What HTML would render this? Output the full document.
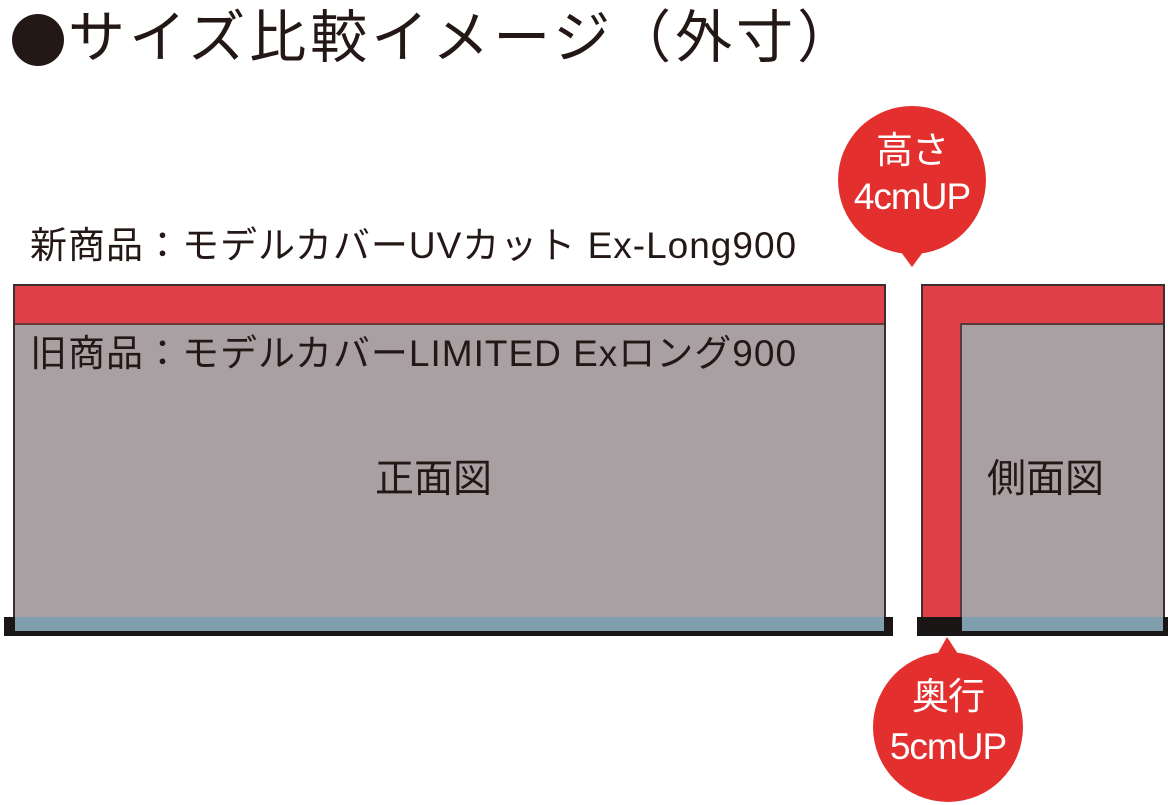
<!DOCTYPE html>
<html><head><meta charset="utf-8"><style>
html,body{margin:0;padding:0;background:#fff;width:1168px;height:805px;overflow:hidden;position:relative;font-family:"Liberation Sans","Noto Sans CJK JP",sans-serif;}
.a{position:absolute;}
.t{position:absolute;white-space:nowrap;color:#231815;}
</style></head><body>
<div class="a" style="left:12px;top:14px;width:52px;height:52px;border-radius:50%;background:#231815;"></div>
<div class="t" style="left:68px;top:2px;font-size:57px;line-height:72px;letter-spacing:4px;">サイズ比較イメージ（外寸）</div>
<div class="t" style="left:30px;top:222px;font-size:37px;line-height:48px;letter-spacing:1px;">新商品：モデルカバーUVカット Ex-Long900</div>

<!-- front -->
<div class="a" style="left:13px;top:284px;width:869px;height:336px;border:2px solid #3a2e2e;border-bottom:none;background:#a9a0a3;"></div>
<div class="a" style="left:15px;top:286px;width:869px;height:37px;background:#df4048;border-bottom:2px solid #6a3a3a;"></div>
<div class="a" style="left:4px;top:617px;width:889px;height:19px;background:#1a1616;"></div>
<div class="a" style="left:15px;top:617px;width:869px;height:14px;background:#7f9fae;"></div>
<div class="t" style="left:30px;top:330px;font-size:37px;line-height:48px;letter-spacing:1px;">旧商品：モデルカバーLIMITED Exロング900</div>
<div class="t" style="left:375px;top:456px;font-size:39px;line-height:48px;">正面図</div>

<!-- side -->
<div class="a" style="left:921px;top:284px;width:240px;height:336px;border:2px solid #3a2e2e;border-bottom:none;background:#df4048;"></div>
<div class="a" style="left:960px;top:323px;width:201px;height:297px;background:#a9a0a3;border-left:2px solid #5a3a3a;border-top:2px solid #5a3a3a;"></div>
<div class="a" style="left:917px;top:617px;width:251px;height:19px;background:#1a1616;"></div>
<div class="a" style="left:962px;top:617px;width:201px;height:14px;background:#7f9fae;"></div>
<div class="t" style="left:987px;top:456px;font-size:39px;line-height:48px;">側面図</div>

<!-- bubbles -->
<svg class="a" style="left:0;top:0" width="1168" height="805">
<circle cx="912" cy="180" r="74" fill="#e3302f"/>
<polygon points="898,248 926,248 912,267" fill="#e3302f"/>
<circle cx="948" cy="727" r="75" fill="#e3302f"/>
<polygon points="934,660 962,660 947,637" fill="#e3302f"/>
</svg>
<div class="t" style="left:838px;top:128px;width:148px;text-align:center;color:#fff;font-size:37px;line-height:46px;letter-spacing:-1px;">高さ<br>4cmUP</div>
<div class="t" style="left:874px;top:672px;width:148px;text-align:center;color:#fff;font-size:37px;line-height:50px;letter-spacing:-1px;">奥行<br>5cmUP</div>
</body></html>
